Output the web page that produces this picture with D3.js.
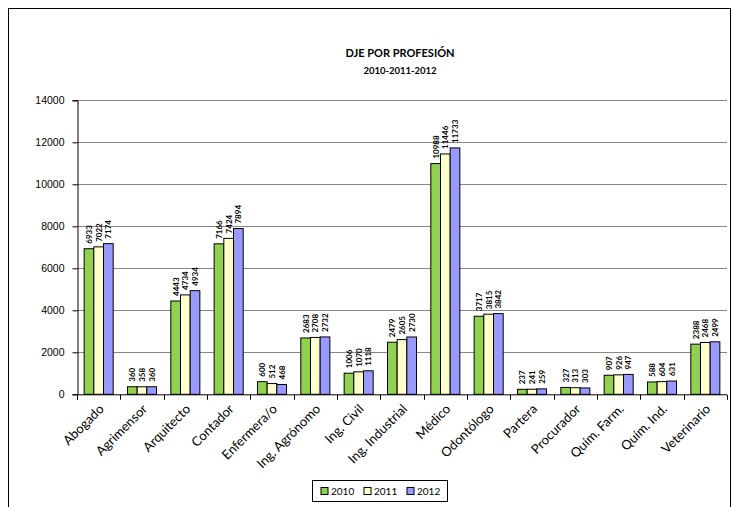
<!DOCTYPE html>
<html>
<head>
<meta charset="utf-8">
<script src="https://cdn.jsdelivr.net/npm/d3@7"></script>
<style>
  html, body { margin: 0; padding: 0; background: #fff; }
  svg { display: block; font-family: Lato, "Open Sans", sans-serif; }
</style>
</head>
<body>
<svg id="chart" width="733" height="507"></svg>
<script>
// Professions and yearly counts
const categories = ["Abogado", "Agrimensor", "Arquitecto", "Contador", "Enfermera/o",
  "Ing. Agrónomo", "Ing. Civil", "Ing. Industrial", "Médico", "Odontólogo",
  "Partera", "Procurador", "Quím. Farm.", "Quím. Ind.", "Veterinario"];
const years = ["2010", "2011", "2012"];
const values2010 = [6933, 360, 4443, 7166, 600, 2683, 1006, 2479, 10988, 3717, 237, 327, 907, 588, 2388];
const values2011 = [7022, 358, 4734, 7424, 512, 2708, 1070, 2605, 11446, 3815, 241, 313, 926, 604, 2468];
const values2012 = [7174, 360, 4934, 7894, 468, 2732, 1118, 2730, 11733, 3842, 259, 303, 947, 631, 2499];
const yTicks = [0, 2000, 4000, 6000, 8000, 10000, 12000, 14000];
const colors = ["#92D050", "#FFFFCC", "#9999FF"];

const series = [values2010, values2011, values2012];
const svg = d3.select("#chart");

// outer chart frame
svg.append("rect").attr("x", 8.5).attr("y", 8.5).attr("width", 722).attr("height", 520)
  .attr("fill", "none").attr("stroke", "#000").attr("stroke-width", 1);

const m = { left: 77, right: 727, top: 100.3, bottom: 394.3 };
const x = d3.scaleBand().domain(categories).range([m.left, m.right]).paddingInner(0.33).paddingOuter(0.165);
const x1 = d3.scaleBand().domain(years).range([0, x.bandwidth()]);
const y = d3.scaleLinear().domain([0, 14000]).range([m.bottom, m.top]);

// gridlines
svg.append("g").selectAll("line").data(yTicks.filter(d => d > 0)).join("line")
  .attr("x1", m.left).attr("x2", m.right)
  .attr("y1", d => Math.round(y(d)) + 0.5).attr("y2", d => Math.round(y(d)) + 0.5)
  .attr("stroke", "#888").attr("stroke-width", 1);

// y axis
const yAxis = svg.append("g").attr("transform", `translate(${m.left + 0.5},0)`)
  .call(d3.axisLeft(y).tickValues(yTicks).tickSize(5).tickPadding(8).tickFormat(d3.format("d")));
yAxis.selectAll("text").attr("font-size", 10.5).attr("fill", "#000");
yAxis.selectAll("line, path").attr("stroke", "#000");

// bars
const groups = svg.append("g").selectAll("g").data(categories).join("g")
  .attr("transform", d => `translate(${x(d)},0)`);
groups.selectAll("rect").data((d, i) => years.map((yr, k) => ({ yr, k, v: series[k][i] }))).join("rect")
  .attr("x", d => x1(d.yr))
  .attr("y", d => y(d.v))
  .attr("width", x1.bandwidth())
  .attr("height", d => y(0) - y(d.v))
  .attr("fill", d => colors[d.k])
  .attr("stroke", "#000").attr("stroke-width", 1);

// value labels
groups.selectAll("text").data((d, i) => years.map((yr, k) => ({ yr, k, v: series[k][i] }))).join("text")
  .attr("transform", d => `translate(${x1(d.yr) + x1.bandwidth() / 2 + 3},${y(d.v) - 5}) rotate(-90)`)
  .attr("font-size", 8).attr("font-weight", "bold").attr("fill", "#000")
  .text(d => d.v);

// x axis
const xAxisG = svg.append("g").attr("transform", `translate(0,${m.bottom + 0.5})`);
xAxisG.append("line").attr("x1", m.left).attr("x2", m.right).attr("stroke", "#000");
const bounds = d3.range(categories.length + 1).map(i => m.left + i * (m.right - m.left) / categories.length);
xAxisG.selectAll("line.t").data(bounds).join("line").attr("class", "t")
  .attr("x1", d => Math.round(d) + 0.5).attr("x2", d => Math.round(d) + 0.5)
  .attr("y1", 0).attr("y2", 5).attr("stroke", "#000");
xAxisG.selectAll("text").data(categories).join("text")
  .attr("transform", d => `translate(${x(d) + x.bandwidth() / 2 + 6},${15}) rotate(-45)`)
  .attr("text-anchor", "end").attr("font-size", 13).attr("fill", "#000")
  .text(d => d);

// title
svg.append("text").attr("x", 400).attr("y", 57).attr("text-anchor", "middle")
  .attr("font-size", 11).attr("font-weight", "bold").text("DJE POR PROFESIÓN");
svg.append("text").attr("x", 400).attr("y", 74).attr("text-anchor", "middle")
  .attr("font-size", 9.5).attr("font-weight", "bold").text("2010-2011-2012");

// legend
const lg = svg.append("g").attr("transform", "translate(312.5,480.5)");
lg.append("rect").attr("width", 135).attr("height", 21).attr("fill", "#fff").attr("stroke", "#000");
const items = lg.selectAll("g").data(years).join("g")
  .attr("transform", (d, i) => `translate(${8.5 + i * 43},7)`);
items.append("rect").attr("width", 7).attr("height", 7)
  .attr("fill", (d, i) => colors[i]).attr("stroke", "#000");
items.append("text").attr("x", 10).attr("y", 7.5).attr("font-size", 10).text(d => d);
</script>
</body>
</html>
